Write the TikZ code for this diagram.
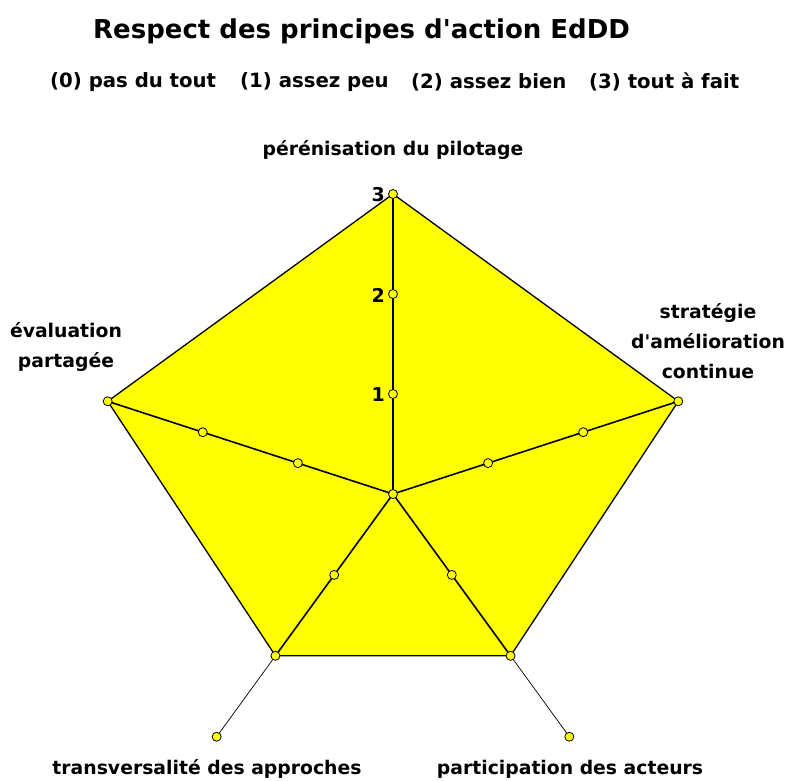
\documentclass[tikz,border=0pt]{standalone}
\usepackage{fontspec}
\setmainfont{DejaVu Sans}
\definecolor{radaryellow}{RGB}{255,255,0}
\begin{document}
\begin{tikzpicture}[x=1pt,y=-1pt,
  marknode/.style={circle,draw=black,fill=radaryellow,line width=0.8pt,inner sep=0pt,minimum size=9pt},
  lbl/.style={font=\bfseries\fontsize{18.8}{30}\selectfont,align=center,inner sep=0pt},
  leg/.style={font=\bfseries\fontsize{19.7}{22}\selectfont,anchor=west,inner sep=0pt},
  ticklbl/.style={font=\bfseries\fontsize{19}{22}\selectfont,inner sep=0pt,anchor=east},
  axisin/.style={line width=1.6pt},
  axisout/.style={line width=0.7pt},
]
\useasboundingbox (0,0) rectangle (789,780);
\coordinate (C) at (393,494);
\foreach \n/\a in {t/-90, r/-18, br/54, bl/126, l/198} {
  \foreach \k in {1,2,3} {\path (C) ++(\a:{\k*100}) coordinate (\n\k);}
}
\fill[radaryellow] (t3) -- (r3) -- (br2) -- (bl2) -- (l3) -- cycle;
\draw[line width=1.3pt,line join=round] (t3) -- (r3) -- (br2) -- (bl2) -- (l3) -- cycle;
\draw[axisin] (C) -- (t3);
\draw[axisin] (C) -- (r3);
\draw[axisin] (C) -- (l3);
\draw[axisin] (C) -- (br2);
\draw[axisin] (C) -- (bl2);
\draw[axisout] (br2) -- (br3);
\draw[axisout] (bl2) -- (bl3);
\foreach \n in {t,r,br,bl,l} {
  \foreach \k in {1,2,3} {\node[marknode] (m\n\k) at (\n\k) {};}
}
\node[marknode] (mC) at (C) {};
\node[ticklbl] (tick3) at (385,195) {3};
\node[ticklbl] (tick2) at (385,295) {2};
\node[ticklbl] (tick1) at (385,395) {1};
\node[font=\bfseries\fontsize{26}{30}\selectfont,anchor=base west,inner sep=0pt] (title) at (93,38) {Respect des principes d\textquotesingle action EdDD};
\node[leg] (leg0) at (50,82) {(0) pas du tout};
\node[leg] (leg1) at (240,82) {(1) assez peu};
\node[leg] (leg2) at (411,82) {(2) assez bien};
\node[leg] (leg3) at (589,82) {(3) tout à fait};
\node[lbl] (lt) at (393,150) {pérénisation du pilotage};
\node[lbl] (lr) at (708,341) {stratégie\\d\textquotesingle amélioration\\continue};
\node[lbl] (ll) at (66,347) {évaluation\\partagée};
\node[lbl,anchor=base] (lbl) at (207,774) {transversalité des approches};
\node[lbl,anchor=base] (lbr) at (570,774) {participation des acteurs};
\end{tikzpicture}
\end{document}
